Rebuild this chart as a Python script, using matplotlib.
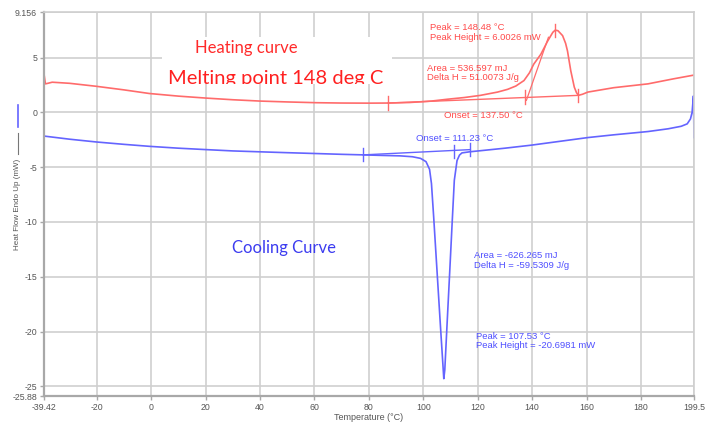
import matplotlib
matplotlib.use("Agg")
import matplotlib.pyplot as plt
from matplotlib.lines import Line2D
from matplotlib.patches import Rectangle
from matplotlib.transforms import Bbox, TransformedBbox

# ---------------- data ----------------
heat_T = [-39.42, -38.9, -38.0, -36.4, -30, -20.3, -10, -0.7, 10, 20.2, 30, 39.9, 50, 60.8,
          70, 80, 87, 95, 103, 109, 115, 121, 127.3, 131, 134, 137, 139, 140.6, 143.2, 145.7,
          147.6, 148.48, 149.5, 151.2, 152.3, 153, 154.2, 155.5, 156.3, 157, 158.5, 160.5,
          170, 182.6, 192, 199.5]
heat_Q = [3.5, 2.6, 2.65, 2.75, 2.65, 2.38, 2.05, 1.72, 1.48, 1.3, 1.15, 1.03, 0.95, 0.88,
          0.85, 0.84, 0.85, 0.9, 1.03, 1.2, 1.35, 1.55, 1.85, 2.1, 2.4, 2.9, 3.6, 4.4, 5.3, 6.5,
          7.3, 7.5, 7.45, 7.0, 6.3, 5.6, 3.8, 2.3, 1.8, 1.55, 1.65, 1.85,
          2.25, 2.6, 3.06, 3.4]

cool_T = [-39.42, -38.9, -30, -20.3, -10, -0.7, 10, 20.2, 30, 39.9, 50, 60.8, 70, 77.9, 85,
          91.5, 96, 99, 101, 102.3, 103, 103.8, 105, 106.3, 107.2, 107.53, 107.9, 108.7, 109.7,
          110.6, 111.4, 112.4, 113.3, 114.2, 117, 121, 130, 139.5, 150, 160.5, 170, 182.6, 190,
          194.8, 197, 198.2, 198.8, 199.3, 199.5]
cool_Q = [-2.15, -2.18, -2.45, -2.7, -2.92, -3.1, -3.27, -3.4, -3.52, -3.6, -3.68, -3.76, -3.83,
          -3.88, -3.93, -3.97, -4.05, -4.2, -4.5, -5.2, -6.5, -9.5, -14.3, -19.5, -23.0, -24.3,
          -23.5, -19.5, -14.6, -10.1, -6.2, -4.4, -3.9, -3.7, -3.6, -3.5, -3.27, -3.0, -2.65,
          -2.3, -2.05, -1.75, -1.5, -1.27, -1.05, -0.6, 0.0, 1.5, -2.3]

# integration baselines / onset tangent
heat_base_T = [87, 157]
heat_base_Q = [0.85, 1.55]
heat_tan_T = [137.9, 146.0]
heat_tan_Q = [1.1, 6.85]
heat_ticks_T = [87, 137.5, 157, 148.48]
heat_ticks_Q = [0.85, 1.4, 1.55, 7.5]

cool_base_T = [77.9, 117.3]
cool_base_Q = [-3.88, -3.4]
cool_ticks_T = [77.9, 111.23, 117.3]
cool_ticks_Q = [-3.88, -3.55, -3.4]

x_ticks = [-39.42, -20, 0, 20, 40, 60, 80, 100, 120, 140, 160, 180, 199.5]
x_labels = ["-39.42", "-20", "0", "20", "40", "60", "80", "100", "120", "140", "160", "180", "199.5"]
y_ticks = [9.156, 5, 0, -5, -10, -15, -20, -25, -25.88]
y_labels = ["9.156", "5", "0", "-5", "-10", "-15", "-20", "-25", "-25.88"]

# ---------------- figure ----------------
W, H = 706, 422
fig = plt.figure(figsize=(W / 100, H / 100), dpi=100)
ax = fig.add_axes([44 / W, 1 - 396 / H, 650 / W, 384 / H])

RED = "#ff6b6b"
BLUE = "#6464ff"
REDTXT = "#ff4a4a"
BLUETXT = "#4f4fff"
GRID = "#cfcfcf"

ax.set_xlim(-39.42, 199.5)
ax.set_ylim(-25.88, 9.156)
ax.set_xticks(x_ticks)
ax.set_xticklabels(x_labels)
ax.set_yticks(y_ticks)
ax.set_yticklabels(y_labels)
ax.grid(True, color=GRID, lw=1.2)
ax.set_axisbelow(True)
for s in ["top", "right"]:
    ax.spines[s].set_color(GRID)
    ax.spines[s].set_linewidth(1.2)
for s in ["left", "bottom"]:
    ax.spines[s].set_color("#a8a8a8")
    ax.spines[s].set_linewidth(1.6)
ax.tick_params(axis="both", length=3, width=1, color="#a8a8a8", labelcolor="#555555",
               labelsize=6.3, pad=2)
for lab in ax.get_xticklabels() + ax.get_yticklabels():
    lab.set_fontfamily("Liberation Sans")

ax.set_xlabel("Temperature (°C)", fontsize=6.5, color="#555555", family="Liberation Sans",
              labelpad=0.5)

# curves
ax.plot(heat_T, heat_Q, color=RED, lw=1.2)
ax.plot(heat_base_T, heat_base_Q, color=RED, lw=1.0)
ax.plot(heat_tan_T, heat_tan_Q, color=RED, lw=0.9)
for t, q in zip(heat_ticks_T, heat_ticks_Q):
    ax.plot([t, t], [q - 0.6, q + 0.6], color=RED, lw=1.0)

ax.plot(cool_T, cool_Q, color=BLUE, lw=1.2)
ax.plot(cool_base_T, cool_base_Q, color=BLUE, lw=1.0)
for t, q in zip(cool_ticks_T, cool_ticks_Q):
    ax.plot([t, t], [q - 0.6, q + 0.6], color=BLUE, lw=1.0)

# y label with line samples
fig.add_artist(Line2D([18 / W, 18 / W], [1 - 105 / H, 1 - 127 / H], color=BLUE, lw=1.2))
fig.add_artist(Line2D([18 / W, 18 / W], [1 - 133 / H, 1 - 154 / H], color="#777777", lw=0.8))
fig.text(18 / W, 1 - 204 / H, "Heat Flow Endo Up (mW)", rotation=90, ha="center", va="center",
         fontsize=5.8, color="#555555", family="Liberation Sans")


def ptext(x, y, s, **kw):
    return fig.text(x / W, 1 - y / H, s, va="baseline", ha="left", **kw)


small = dict(fontsize=6.8, family="Liberation Sans")
ptext(430, 30, "Peak = 148.48 °C", color=REDTXT, **small)
ptext(430, 39.5, "Peak Height = 6.0026 mW", color=REDTXT, **small)
ptext(427, 71, "Area = 536.597 mJ", color=REDTXT, **small)
ptext(427, 80.5, "Delta H = 51.0073 J/g", color=REDTXT, **small)
ptext(444, 117.5, "Onset = 137.50 °C", color=REDTXT, **small)

ptext(416, 141, "Onset = 111.23 °C", color=BLUETXT, **small)
ptext(474, 258, "Area = -626.265 mJ", color=BLUETXT, **small)
ptext(474, 268, "Delta H = -59.5309 J/g", color=BLUETXT, **small)
ptext(476, 339, "Peak = 107.53 °C", color=BLUETXT, **small)
ptext(476, 348.5, "Peak Height = -20.6981 mW", color=BLUETXT, **small)

# white pasted text boxes
fig.add_artist(Rectangle((162 / W, 1 - 84 / H), (392 - 162) / W, (84 - 37) / H,
                         transform=fig.transFigure, facecolor="white", edgecolor="none",
                         zorder=1.5))

# big annotations
ptext(195, 53, "Heating curve", color="#ff2a2a", fontsize=12, family="Lato", zorder=3)
mt = ptext(168, 84, "Melting point 148 deg C", color="#ff2020", fontsize=14.5, family="Lato",
           zorder=3)
mt.set_clip_box(TransformedBbox(Bbox([[0, 1 - 84 / H], [1, 1]]), fig.transFigure))
mt.set_clip_on(True)
ptext(232, 253, "Cooling Curve", color="#3c3cf0", fontsize=12, family="Lato", zorder=3)

fig.savefig("out.png", dpi=100)
